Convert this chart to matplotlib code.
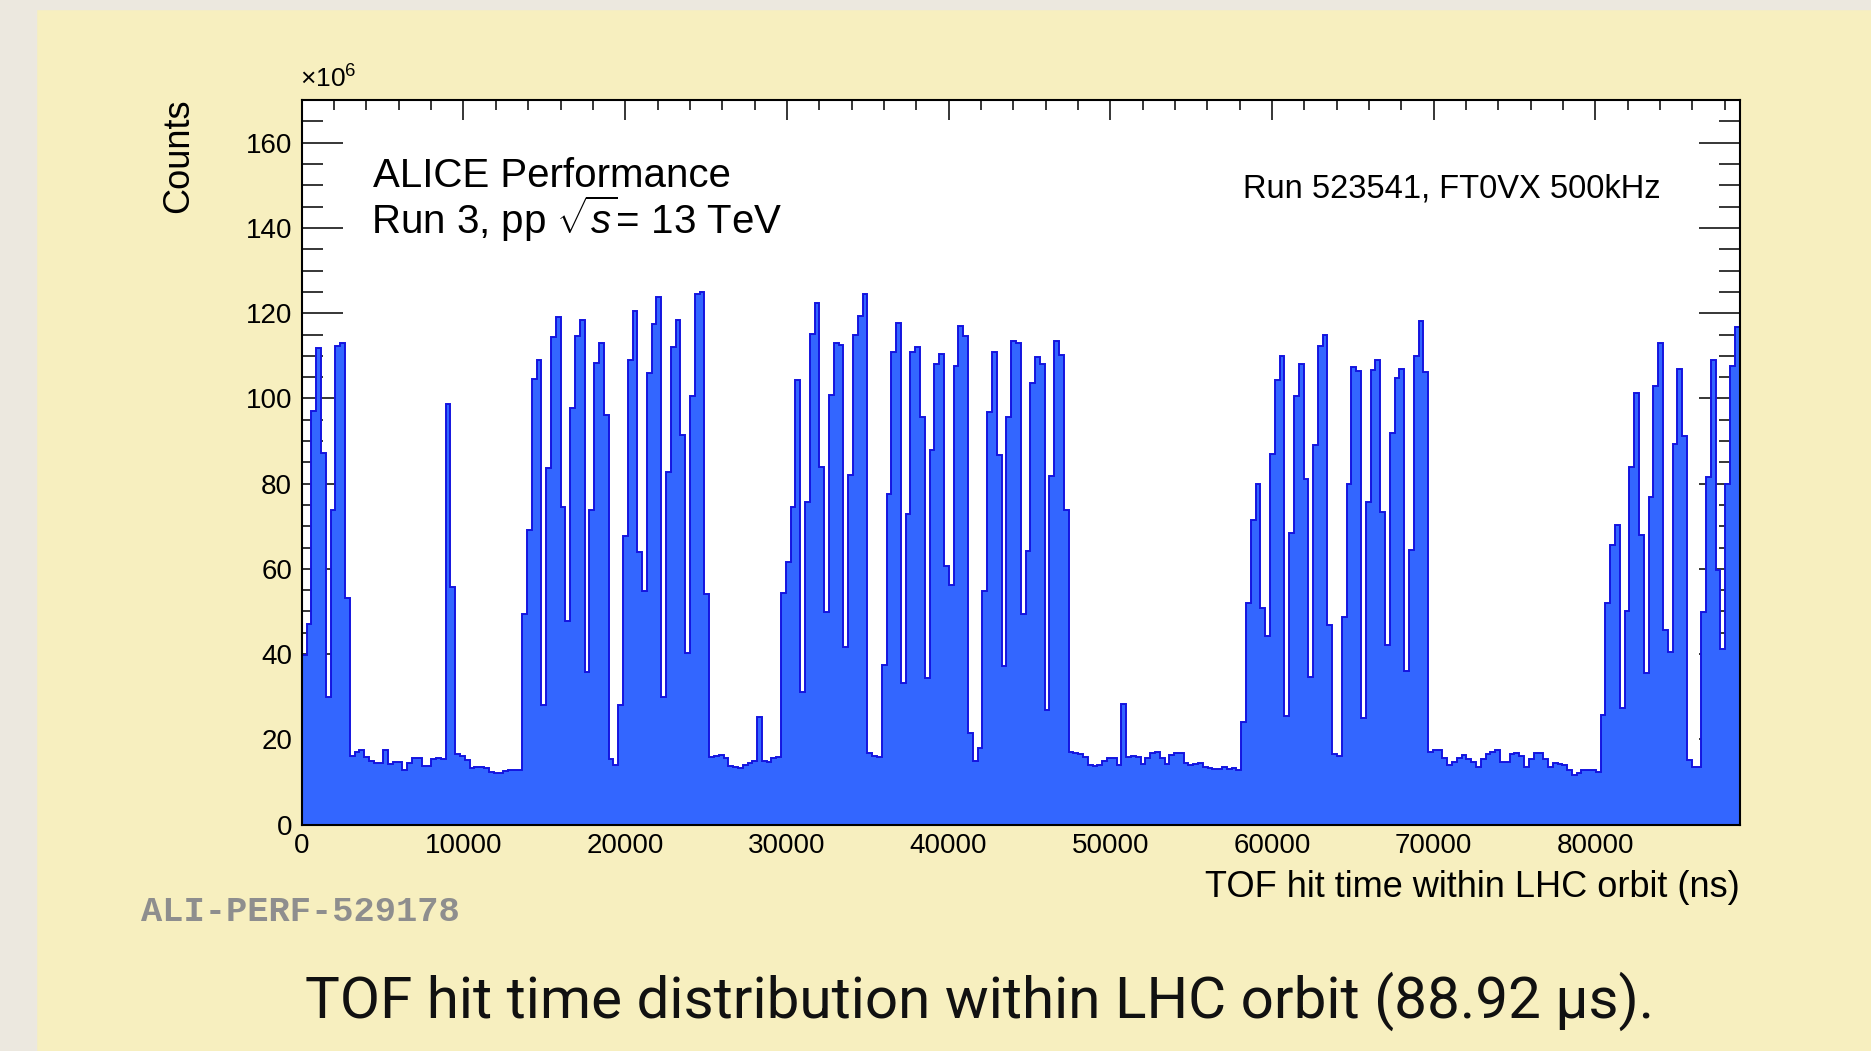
import numpy as np
import matplotlib
matplotlib.use("Agg")
import matplotlib.pyplot as plt
from matplotlib.ticker import MultipleLocator

# TOF hit time within the LHC orbit, 300 bins over 0..88920 ns (values in units of 1e6 counts)
orbit_ns = 88920
n_bins = 300
counts = [
    39.7, 47.1, 97.0, 111.8, 87.3, 30.0, 73.8, 112.3, 112.9, 53.1,
    16.1, 17.1, 17.4, 15.9, 14.8, 14.4, 14.4, 17.4, 14.2, 14.6,
    14.6, 12.7, 14.4, 15.7, 15.7, 13.7, 13.7, 15.4, 15.7, 15.3,
    98.7, 55.7, 16.5, 16.1, 15.1, 13.2, 13.6, 13.6, 13.3, 12.3,
    12.1, 12.1, 12.5, 12.7, 12.9, 12.7, 49.5, 69.2, 104.5, 109.0,
    28.0, 83.6, 114.4, 119.2, 74.6, 47.7, 97.8, 114.6, 118.5, 35.8,
    73.9, 108.3, 112.9, 96.1, 15.3, 14.0, 28.0, 67.6, 109.0, 120.5,
    63.9, 54.7, 106.0, 117.5, 123.8, 29.9, 82.7, 112.1, 118.4, 91.5,
    40.2, 100.6, 124.4, 124.9, 54.1, 15.9, 16.1, 16.3, 15.7, 13.7,
    13.6, 13.2, 14.0, 14.4, 14.8, 25.3, 14.8, 14.6, 15.7, 15.9,
    54.4, 61.5, 74.6, 104.3, 31.2, 75.8, 115.2, 122.4, 84.0, 49.8,
    100.9, 112.9, 112.5, 41.7, 82.1, 114.8, 119.4, 124.6, 16.9, 16.1,
    15.9, 37.5, 77.5, 111.0, 117.7, 33.1, 72.9, 111.0, 112.1, 95.6,
    34.3, 88.0, 108.0, 110.4, 60.7, 56.3, 107.6, 117.1, 114.6, 21.4,
    14.8, 18.0, 54.8, 96.7, 110.8, 86.7, 37.2, 95.6, 113.5, 112.9,
    49.5, 64.1, 103.7, 109.7, 108.1, 26.8, 81.9, 113.5, 110.1, 73.9,
    17.1, 16.9, 16.5, 15.9, 14.0, 13.7, 14.0, 14.8, 15.7, 15.7,
    14.0, 28.4, 15.9, 16.1, 15.9, 14.2, 15.7, 16.8, 17.1, 15.7,
    14.2, 16.3, 16.9, 16.8, 14.4, 14.0, 14.2, 14.4, 13.6, 13.2,
    13.0, 13.0, 13.4, 13.0, 13.3, 12.7, 24.1, 51.9, 71.4, 80.0,
    50.9, 44.3, 86.9, 104.3, 110.0, 25.5, 68.5, 100.6, 108.1, 81.1,
    34.7, 89.0, 112.3, 115.0, 46.9, 16.5, 16.1, 48.8, 80.0, 107.3,
    106.4, 25.1, 75.6, 106.6, 109.0, 73.3, 42.1, 92.0, 104.9, 106.9,
    36.0, 64.5, 110.0, 118.2, 106.2, 17.1, 17.4, 17.6, 15.7, 14.0,
    14.6, 15.7, 16.3, 15.3, 14.6, 13.6, 15.3, 16.5, 17.1, 17.4,
    14.6, 14.6, 16.5, 16.9, 16.1, 13.6, 15.3, 16.8, 16.9, 15.3,
    13.6, 14.4, 14.2, 14.0, 12.7, 11.7, 12.1, 12.7, 12.9, 12.9,
    12.3, 25.7, 52.1, 65.5, 70.4, 27.4, 50.0, 83.8, 101.2, 68.0,
    35.5, 76.9, 103.0, 112.9, 45.6, 40.4, 89.2, 107.0, 91.1, 15.1,
    13.6, 13.6, 49.8, 81.6, 109.1, 59.7, 41.1, 79.8, 107.6, 116.7,
]
y_ticks = [0, 20, 40, 60, 80, 100, 120, 140, 160]
x_ticks = [0, 10000, 20000, 30000, 40000, 50000, 60000, 70000, 80000]

edges = np.linspace(0, orbit_ns, n_bins + 1)

plt.rcParams['font.family'] = ['Liberation Sans', 'DejaVu Sans']
plt.rcParams['mathtext.fontset'] = 'custom'
plt.rcParams['mathtext.rm'] = 'Liberation Sans'
plt.rcParams['mathtext.it'] = 'Liberation Sans:italic'

fig = plt.figure(figsize=(18.71, 10.51), dpi=100)
fig.patch.set_facecolor('#f7efbf')

# pale strips of the neighbouring slide at the left and top edges
fig.patches.append(plt.Rectangle((0, 0), 36 / 1871, 1, transform=fig.transFigure,
                                 color='#ece8df', zorder=0))
fig.patches.append(plt.Rectangle((0, 1 - 9 / 1051), 1, 9 / 1051, transform=fig.transFigure,
                                 color='#ece8df', zorder=0))

ax = fig.add_axes([0.1613, 0.2155, 0.9298 - 0.1613, 0.9047 - 0.2155])
ax.set_facecolor('white')

ax.stairs(counts, edges, fill=True, facecolor='#3366ff', edgecolor='none', zorder=2)
ax.stairs(counts, edges, color='#1414e0', linewidth=1.4, zorder=3)

ax.set_xlim(0, orbit_ns)
ax.set_ylim(0, 170)

ax.set_xticks(x_ticks)
ax.set_xticklabels([str(v) for v in x_ticks])
ax.set_yticks(y_ticks)
ax.set_yticklabels([str(v) for v in y_ticks])
ax.xaxis.set_minor_locator(MultipleLocator(2000))
ax.yaxis.set_minor_locator(MultipleLocator(5))

ax.tick_params(axis='both', which='both', direction='in', width=1.1, colors='black',
               labelsize=20, top=True, right=True)
ax.tick_params(axis='y', which='major', length=29.5, pad=7)
ax.tick_params(axis='y', which='minor', length=15)
ax.tick_params(axis='x', which='major', length=14.5, pad=6)
ax.tick_params(axis='x', which='minor', length=7.3)
for sp in ax.spines.values():
    sp.set_linewidth(1.5)
    sp.set_zorder(5)

# axis titles, ROOT style (aligned at the far end of the axis)
fig.text(0.9298, 0.1462, 'TOF hit time within LHC orbit (ns)', ha='right', va='baseline',
         fontsize=26)
fig.text(0.0957, 0.906, 'Counts', rotation=90, ha='center', va='top', fontsize=26)
fig.text(0.1605, 0.917, r'$\times10^{6}$', ha='left', va='baseline', fontsize=19)

# labels inside the frame
fig.text(373 / 1871, 1 - 187 / 1051, 'ALICE Performance', ha='left', va='baseline', fontsize=29)
fig.text(371 / 1871, 1 - 234 / 1051, r'Run 3, pp $\sqrt{s}$= 13 TeV', ha='left', va='baseline',
         fontsize=29)
fig.text(1661 / 1871, 1 - 197 / 1051, 'Run 523541, FT0VX 500kHz', ha='right', va='baseline',
         fontsize=23.5)

fig.text(141 / 1871, 1 - 921 / 1051, 'ALI-PERF-529178', ha='left', va='baseline',
         fontsize=25.5, family='Liberation Mono', weight='bold', color='#8e8e8e')

fig.text(980 / 1871, 1 - 1018 / 1051, 'TOF hit time distribution within LHC orbit (88.92 μs).',
         ha='center', va='baseline', fontsize=42, family=['Roboto', 'DejaVu Sans'], color='#111111')

fig.savefig('out.png', dpi=100, facecolor=fig.get_facecolor())
